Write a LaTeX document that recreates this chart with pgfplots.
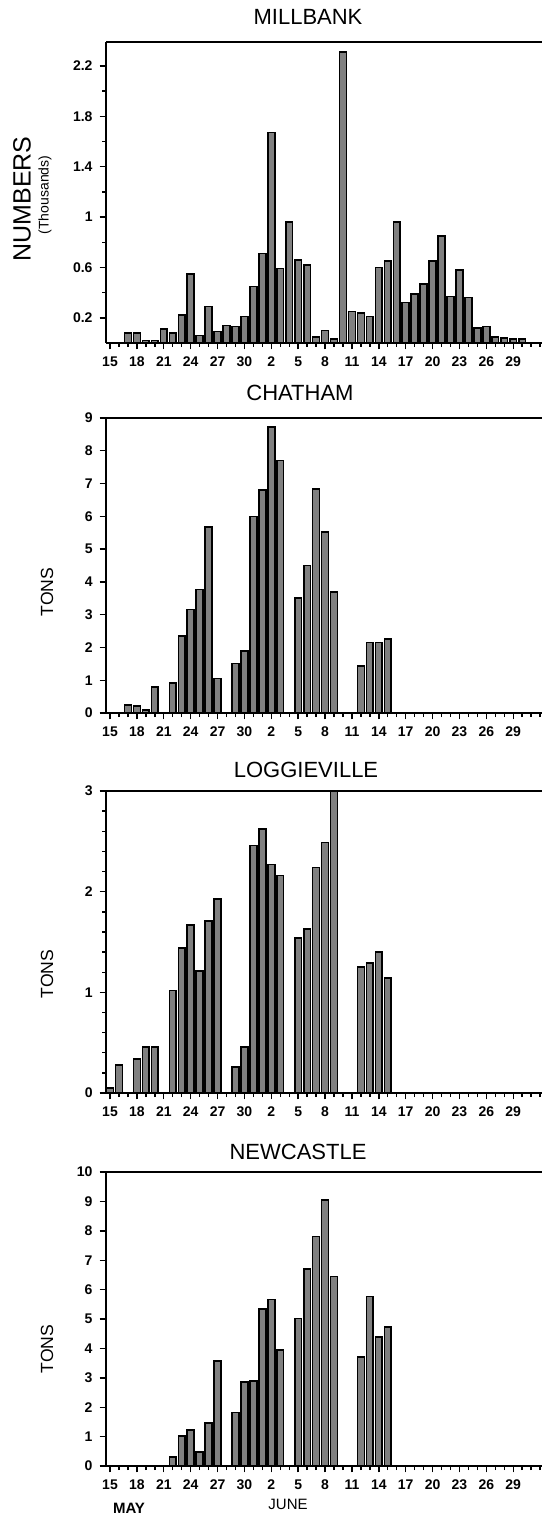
\documentclass[border=0pt]{standalone}
\usepackage{pgfplots}
\pgfplotsset{compat=1.18}
\usepackage{fontspec}
\setmainfont{Liberation Sans}
\begin{document}
\begin{tikzpicture}[x=1pt,y=1pt]
\useasboundingbox (0pt,0pt) rectangle (270.5pt,-764.5pt);
\pgfplotsset{
  panel/.style={
    scale only axis, width=226pt, anchor=south west,
    xmin=-0.45, xmax=50, ymin=0, clip=false,
    axis lines=left, axis line style={-, line width=0.9pt},
    xtick={0,3,...,45},
    xticklabels={15,18,21,24,27,30,2,5,8,11,14,17,20,23,26,29},
    minor xtick={0,...,50},
    xtick align=center, ytick align=outside,
    major tick length=3.2pt, minor tick length=2pt,
    every tick/.style={black, line width=0.7pt},
    tick label style={font=\fontsize{7}{8}\selectfont\bfseries},
    /pgf/number format/assume math mode=true,
    ybar, bar width=0.76,
  },
  mybar/.style={fill=black!50, draw=black, line width=0.8pt, bar shift=0pt},
}
% MILLBANK
\begin{axis}[panel, at={(53pt,-171.5pt)}, height=150.5pt, ymax=2.39,
  ytick={0.2,0.6,1,1.4,1.8,2.2}, minor ytick={0.4,0.8,1.2,1.6,2.0}]
\addplot[mybar] coordinates {(2,0.08)(3,0.08)(4,0.02)(5,0.02)(6,0.11)(7,0.08)(8,0.22)(9,0.55)(10,0.06)(11,0.29)(12,0.09)(13,0.14)(14,0.13)(15,0.21)(16,0.45)(17,0.71)(18,1.67)(19,0.59)(20,0.96)(21,0.66)(22,0.62)(23,0.05)(24,0.10)(25,0.03)(26,2.31)(27,0.25)(28,0.24)(29,0.21)(30,0.60)(31,0.65)(32,0.96)(33,0.32)(34,0.39)(35,0.47)(36,0.65)(37,0.85)(38,0.37)(39,0.58)(40,0.36)(41,0.12)(42,0.13)(43,0.05)(44,0.04)(45,0.03)(46,0.03)};
\draw[line width=0.9pt] (rel axis cs:0,1) -- (rel axis cs:1,1);
\end{axis}
% CHATHAM
\begin{axis}[panel, at={(53pt,-356.5pt)}, height=147.5pt, ymax=9, ytick={0,...,9}]
\addplot[mybar] coordinates {(2,0.24)(3,0.21)(4,0.10)(5,0.80)(7,0.92)(8,2.35)(9,3.16)(10,3.77)(11,5.67)(12,1.05)(14,1.51)(15,1.90)(16,6.00)(17,6.81)(18,8.73)(19,7.70)(21,3.50)(22,4.50)(23,6.83)(24,5.52)(25,3.70)(28,1.43)(29,2.15)(30,2.15)(31,2.25)};
\draw[line width=0.9pt] (rel axis cs:0,1) -- (rel axis cs:1,1);
\end{axis}
% LOGGIEVILLE
\begin{axis}[panel, at={(53pt,-546.5pt)}, height=151pt, ymax=3, ytick={0,1,2,3}, minor y tick num=4]
\addplot[mybar] coordinates {(0,0.05)(1,0.28)(3,0.34)(4,0.46)(5,0.46)(7,1.02)(8,1.44)(9,1.67)(10,1.21)(11,1.71)(12,1.93)(14,0.26)(15,0.46)(16,2.46)(17,2.62)(18,2.27)(19,2.16)(21,1.54)(22,1.63)(23,2.24)(24,2.49)(25,3.0)(28,1.25)(29,1.29)(30,1.40)(31,1.14)};
\draw[line width=0.9pt] (rel axis cs:0,1) -- (rel axis cs:1,1);
\end{axis}
% NEWCASTLE
\begin{axis}[panel, at={(53pt,-733pt)}, height=147pt, ymax=10, ytick={0,...,10}]
\addplot[mybar] coordinates {(7,0.31)(8,1.02)(9,1.22)(10,0.47)(11,1.46)(12,3.57)(14,1.82)(15,2.86)(16,2.90)(17,5.35)(18,5.67)(19,3.95)(21,5.02)(22,6.71)(23,7.81)(24,9.05)(25,6.44)(28,3.70)(29,5.76)(30,4.39)(31,4.72)};
\draw[line width=0.9pt] (rel axis cs:0,1) -- (rel axis cs:1,1);
\end{axis}
% titles and labels
\node[font=\fontsize{11}{13}\selectfont] at (154pt,-8.5pt) {MILLBANK};
\node[font=\fontsize{11}{13}\selectfont] at (150pt,-196.5pt) {CHATHAM};
\node[font=\fontsize{11}{13}\selectfont] at (153pt,-385pt) {LOGGIEVILLE};
\node[font=\fontsize{11}{13}\selectfont] at (149pt,-576pt) {NEWCASTLE};
\node[rotate=90, font=\fontsize{12.5}{14}\selectfont] at (11pt,-99.5pt) {NUMBERS};
\node[rotate=90, font=\fontsize{7}{8}\selectfont] at (22.5pt,-97.5pt) {(Thousands)};
\node[rotate=90, font=\fontsize{8.8}{10}\selectfont] at (23.5pt,-296pt) {TONS};
\node[rotate=90, font=\fontsize{8.8}{10}\selectfont] at (23.5pt,-487pt) {TONS};
\node[rotate=90, font=\fontsize{8.8}{10}\selectfont] at (23.5pt,-674.5pt) {TONS};
\node[font=\fontsize{7.5}{9}\selectfont\bfseries] at (64.5pt,-754pt) {MAY};
\node[font=\fontsize{7.5}{9}\selectfont] at (144pt,-752pt) {JUNE};
\end{tikzpicture}
\end{document}
